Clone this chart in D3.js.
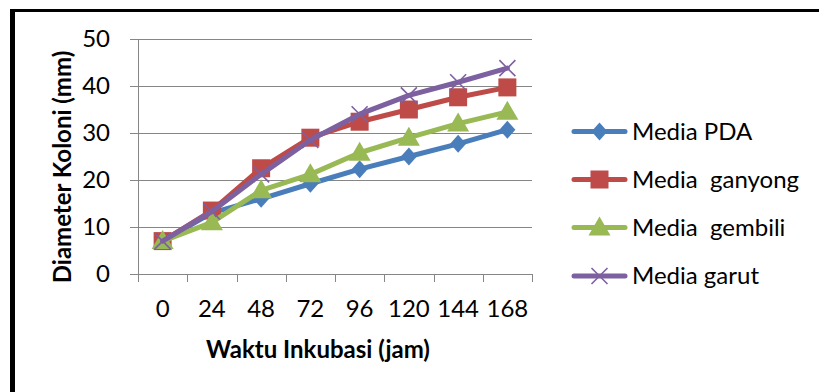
<!DOCTYPE html>
<html><head><meta charset="utf-8">
<script src="https://cdn.jsdelivr.net/npm/d3@7"></script>
<style>
html,body{margin:0;padding:0;background:#fff;}
svg{display:block;}
text{font-family:Lato, "Noto Sans", sans-serif; white-space:pre;}
</style></head>
<body><svg id="c" width="819" height="392"></svg>
<script>
const categories = ["0","24","48","72","96","120","144","168"];
const seriesNames = ["Media PDA","Media  ganyong","Media  gembili","Media garut"];
const pda     = [7.0, 13.0, 16.0, 19.2, 22.3, 25.0, 27.7, 30.7];
const ganyong = [7.0, 13.5, 22.5, 29.0, 32.4, 35.0, 37.6, 39.7];
const gembili = [7.0, 11.0, 17.8, 21.2, 25.8, 29.0, 32.0, 34.5];
const garut   = [7.0, 13.3, 21.2, 28.5, 34.0, 38.0, 40.8, 43.8];
const yTicks  = [0, 10, 20, 30, 40, 50];
const colors  = ["#4A7EBB", "#BE4B48", "#98B954", "#7D60A0"];
const xTitle = "Waktu Inkubasi (jam)";
const yTitle = "Diameter Koloni (mm)";

const seriesData = [pda, ganyong, gembili, garut];
const markerKinds = ["diamond", "square", "triangle", "x"];

const svg = d3.select("#c");
svg.append("rect").attr("x", 0).attr("y", 0).attr("width", 819).attr("height", 392).attr("fill", "#fff");
svg.append("rect").attr("x", 10).attr("y", 9).attr("width", 809).attr("height", 3).attr("fill", "#000");
svg.append("rect").attr("x", 10).attr("y", 9).attr("width", 5).attr("height", 383).attr("fill", "#000");

const x = d3.scaleBand().domain(categories).range([138, 532]).padding(0);
const y = d3.scaleLinear().domain([0, 50]).range([274, 39]);
const gridColor = "#868686";

svg.append("g").selectAll("line").data(yTicks).join("line")
  .attr("x1", 130).attr("x2", 532)
  .attr("y1", d => Math.round(y(d)) + 0.5).attr("y2", d => Math.round(y(d)) + 0.5)
  .attr("stroke", gridColor).attr("stroke-width", 1);

svg.append("line").attr("x1", 138.5).attr("x2", 138.5).attr("y1", y(50)).attr("y2", y(0) + 0.5)
  .attr("stroke", gridColor).attr("stroke-width", 1);

svg.append("g").selectAll("text").data(yTicks).join("text")
  .attr("x", 110).attr("y", d => y(d)).attr("dy", "0.35em")
  .attr("text-anchor", "end").attr("font-size", 24).attr("fill", "#000")
  .text(d => d);

const bounds = categories.map(c => x(c)).concat([x(categories[categories.length - 1]) + x.bandwidth()]);
svg.append("g").selectAll("line").data(bounds).join("line")
  .attr("x1", d => Math.round(d) + 0.5).attr("x2", d => Math.round(d) + 0.5)
  .attr("y1", y(0)).attr("y2", y(0) + 8)
  .attr("stroke", gridColor).attr("stroke-width", 1);

svg.append("g").selectAll("text").data(categories).join("text")
  .attr("x", d => x(d) + x.bandwidth() / 2).attr("y", 317)
  .attr("text-anchor", "middle").attr("font-size", 24).attr("fill", "#000")
  .text(d => d);

svg.append("text").attr("x", 318).attr("y", 358).attr("text-anchor", "middle")
  .attr("font-size", 24).attr("font-weight", "bold").text(xTitle);
svg.append("text").attr("transform", "translate(71,167) rotate(-90)")
  .attr("text-anchor", "middle").attr("font-size", 24).attr("font-weight", "bold").text(yTitle);

function drawMarker(g, kind, cx, cy, color) {
  if (kind === "diamond") {
    g.append("path").attr("d", `M${cx},${cy - 9}L${cx + 8},${cy}L${cx},${cy + 9}L${cx - 8},${cy}Z`).attr("fill", color);
  } else if (kind === "square") {
    g.append("rect").attr("x", cx - 9).attr("y", cy - 9).attr("width", 18).attr("height", 18).attr("fill", color);
  } else if (kind === "triangle") {
    g.append("path").attr("d", `M${cx},${cy - 11}L${cx + 11},${cy + 8}L${cx - 11},${cy + 8}Z`).attr("fill", color);
  } else {
    g.append("path").attr("d", `M${cx - 8},${cy - 8}L${cx + 8},${cy + 8}M${cx - 8},${cy + 8}L${cx + 8},${cy - 8}`)
      .attr("stroke", color).attr("stroke-width", 1.6).attr("fill", "none");
  }
}

const line = d3.line().x((d, i) => x(categories[i]) + x.bandwidth() / 2).y(d => y(d));
seriesData.forEach((vals, si) => {
  const g = svg.append("g");
  g.append("path").attr("d", line(vals)).attr("fill", "none")
    .attr("stroke", colors[si]).attr("stroke-width", 5).attr("stroke-linejoin", "round").attr("stroke-linecap", "round");
  vals.forEach((v, i) => drawMarker(g, markerKinds[si], x(categories[i]) + x.bandwidth() / 2, y(v), colors[si]));
});

const legY = [131.5, 179.5, 227.5, 276];
seriesNames.forEach((name, si) => {
  const g = svg.append("g");
  g.append("line").attr("x1", 574).attr("x2", 625).attr("y1", legY[si]).attr("y2", legY[si])
    .attr("stroke", colors[si]).attr("stroke-width", 5).attr("stroke-linecap", "round");
  drawMarker(g, markerKinds[si], 599.5, legY[si], colors[si]);
  g.append("text").attr("x", 632).attr("y", legY[si]).attr("dy", "0.35em")
    .attr("font-size", 24).attr("fill", "#000").text(name);
});
</script></body></html>
